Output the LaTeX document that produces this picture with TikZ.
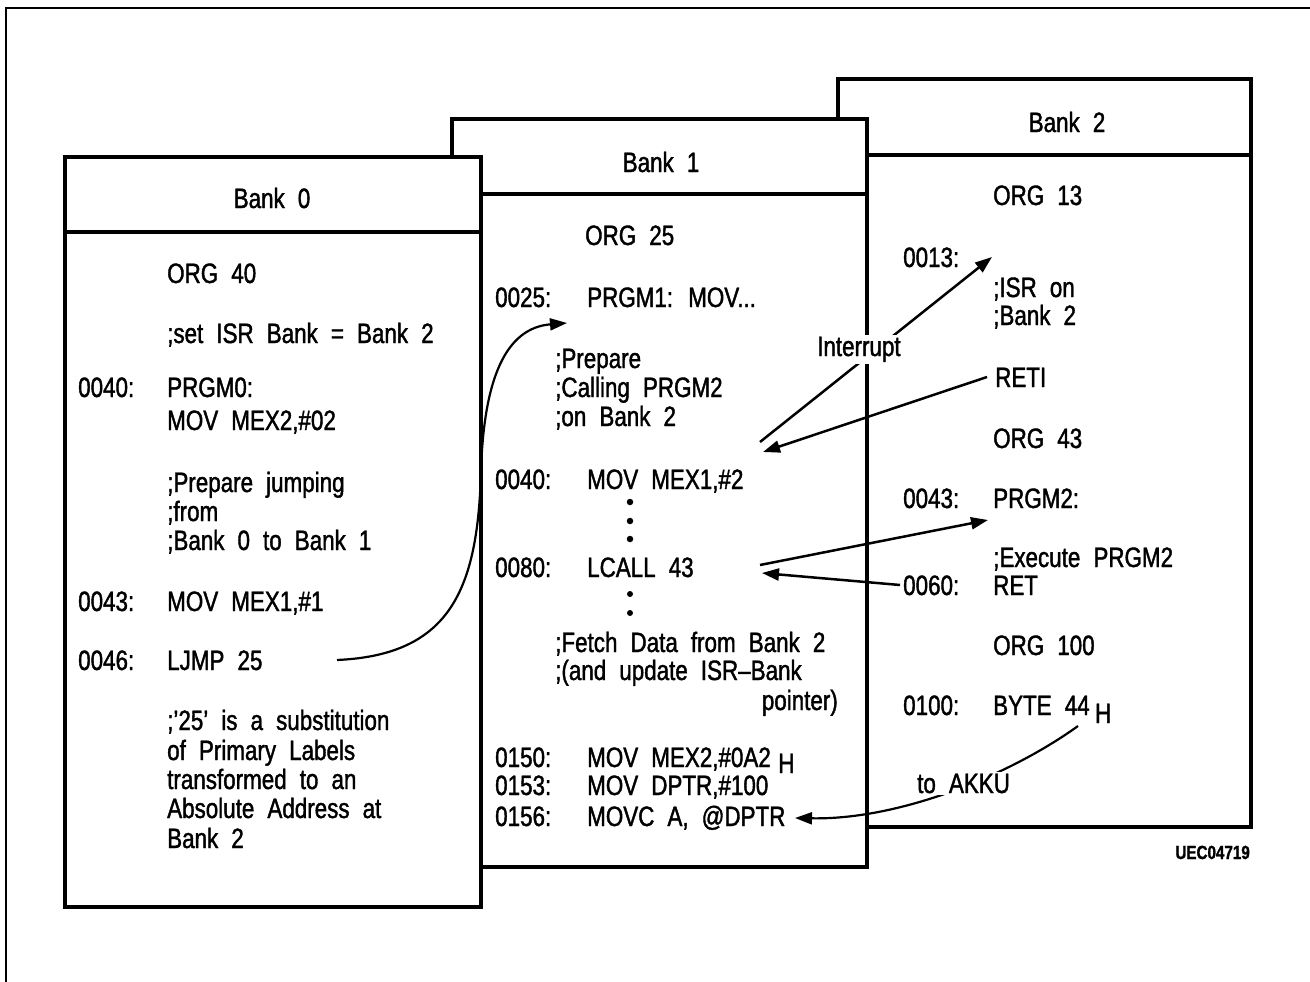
\documentclass[tikz,border=0pt]{standalone}
\usepackage{fontspec}
\setmainfont{Liberation Sans}[FakeStretch=0.8,WordSpace=2.1,FakeBold=1.4]
\usetikzlibrary{arrows.meta}
\begin{document}
\begin{tikzpicture}[x=1pt,y=-1pt,
  font=\fontsize{28}{30}\selectfont,
  txt/.style={anchor=base west, inner sep=0pt},
  txr/.style={anchor=base east, inner sep=0pt},
  ttl/.style={anchor=base, inner sep=0pt},
  box/.style={draw, fill=white, line width=4pt},
  hdr/.style={line width=3.5pt},
  arr/.style={line width=2.5pt, -{Triangle[length=17pt,width=12pt]}},
  crv/.style={line width=2.2pt, -{Triangle[length=17pt,width=12pt]}},
  bdot/.style={circle, fill, inner sep=0pt, minimum size=6.5pt},
  knock/.style={anchor=base west, fill=white, inner sep=2pt},
]
\useasboundingbox (0,0) rectangle (1310,982);
% outer frame
\draw[line width=2pt] (6,982) -- (6,8) -- (1310,8);

% ---------------- Bank 2 ----------------
\draw[box] (838,79) rectangle (1251,827);
\draw[hdr] (838,155) -- (1251,155);
\node[ttl] (b2title) at (1067,132) {Bank 2};
\node[txt] (b2org13) at (993,205) {ORG 13};
\node[txt] (b2a13) at (903,267) {0013:};
\node[txt] (b2isr) at (993,297) {;ISR on};
\node[txt] (b2bk) at (993,325) {;Bank 2};
\node[txt] (b2reti) at (995,387) {RETI};
\node[txt] (b2org43) at (993,448) {ORG 43};
\node[txt] (b2a43) at (903,508) {0043:};
\node[txt] (b2prgm) at (993,508) {PRGM2:};
\node[txt] (b2exec) at (993,567) {;Execute PRGM2};
\node[txt] (b2a60) at (903,595) {0060:};
\node[txt] (b2ret) at (993,595) {RET};
\node[txt] (b2org100) at (993,655) {ORG 100};
\node[txt] (b2a100) at (903,715) {0100:};
\node[txt] (b2byte) at (993,715) {BYTE 44};
\node[txt, xshift=5pt, yshift=-8pt] (b2h) at (b2byte.base east) {H};
\node[txr, font=\bfseries\fontsize{19}{20}\selectfont] (code) at (1250,859) {UEC04719};

% ---------------- Bank 1 ----------------
\draw[box] (452,119) rectangle (867,867);
\draw[hdr] (452,194) -- (867,194);
\node[ttl] (b1title) at (661,172) {Bank 1};
\node[txt] (b1org) at (585,245) {ORG 25};
\node[txt] (b1a25) at (495,307) {0025:};
\node[txt] (b1prgm) at (587,307) {PRGM1: MOV...};
\node[txt] (b1c1) at (555,368) {;Prepare};
\node[txt] (b1c2) at (555,397) {;Calling PRGM2};
\node[txt] (b1c3) at (555,426) {;on Bank 2};
\node[txt] (b1a40) at (495,489) {0040:};
\node[txt] (b1mov) at (587,489) {MOV MEX1,\#2};
\node[bdot] (d1) at (630,502) {};
\node[bdot] (d2) at (630,521) {};
\node[bdot] (d3) at (630,539) {};
\node[txt] (b1a80) at (495,577) {0080:};
\node[txt] (b1lcall) at (587,577) {LCALL 43};
\node[bdot, minimum size=6pt] (d4) at (630,594) {};
\node[bdot, minimum size=6pt] (d5) at (630,613) {};
\node[txt] (b1f1) at (555,652) {;Fetch Data from Bank 2};
\node[txt] (b1f2) at (555,680) {;(and update ISR–Bank};
\node[txr] (b1f3) at (838,710) {pointer)};
\node[txt] (b1a150) at (495,767) {0150:};
\node[txt] (b1m150) at (587,767) {MOV MEX2,\#0A2};
\node[txt, xshift=7pt, yshift=-6pt] (b1h) at (b1m150.base east) {H};
\node[txt] (b1a153) at (495,795) {0153:};
\node[txt] (b1m153) at (587,795) {MOV DPTR,\#100};
\node[txt] (b1a156) at (495,826) {0156:};
\node[txt] (b1m156) at (587,826) {MOVC A, @DPTR};

% ---------------- Bank 0 ----------------
\draw[box] (65,157) rectangle (481,907);
\draw[hdr] (65,232) -- (481,232);
\node[ttl] (b0title) at (272,208) {Bank 0};
\node[txt] (b0org) at (167,283) {ORG 40};
\node[txt] (b0set) at (167,343) {;set ISR Bank = Bank 2};
\node[txt] (b0a40) at (78,397) {0040:};
\node[txt] (b0prgm) at (167,397) {PRGM0:};
\node[txt] (b0mov2) at (167,430) {MOV MEX2,\#02};
\node[txt] (b0p1) at (167,492) {;Prepare jumping};
\node[txt] (b0p2) at (167,521) {;from};
\node[txt] (b0p3) at (167,550) {;Bank 0 to Bank 1};
\node[txt] (b0a43) at (78,611) {0043:};
\node[txt] (b0mov1) at (167,611) {MOV MEX1,\#1};
\node[txt] (b0a46) at (78,670) {0046:};
\node[txt] (b0ljmp) at (167,670) {LJMP 25};
\node[txt] (b0n1) at (167,730) {;'25' is a substitution};
\node[txt] (b0n2) at (167,760) {of Primary Labels};
\node[txt] (b0n3) at (167,789) {transformed to an};
\node[txt] (b0n4) at (167,818) {Absolute Address at};
\node[txt] (b0n5) at (167,848) {Bank 2};

% ---------------- connectors ----------------
\coordinate (ljs) at (337,660);
\coordinate (lje) at (567,323);
\draw[crv] (ljs) .. controls (450,655) and (478,590) .. (481,470)
                 .. controls (484,380) and (505,328) .. (lje);

\coordinate (ins) at (760,442);
\coordinate (ine) at (992,257);
\draw[arr] (ins) -- (ine);
\node[knock] (intr) at (815,356) {Interrupt};

\coordinate (rts) at (987,377);
\coordinate (rte) at (763,452);
\draw[arr] (rts) -- (rte);

\coordinate (lcs) at (760,565);
\coordinate (lce) at (988,520);
\draw[arr] (lcs) -- (lce);

\coordinate (rets) at (900,585);
\coordinate (rete) at (762,573);
\draw[arr] (rets) -- (rete);

\coordinate (aks) at (1078,726);
\coordinate (ake) at (795,818);
\draw[crv] (aks) .. controls (1010,775) and (900,820) .. (ake);
\node[knock] (akku) at (915,793) {to AKKU};
\end{tikzpicture}
\end{document}
